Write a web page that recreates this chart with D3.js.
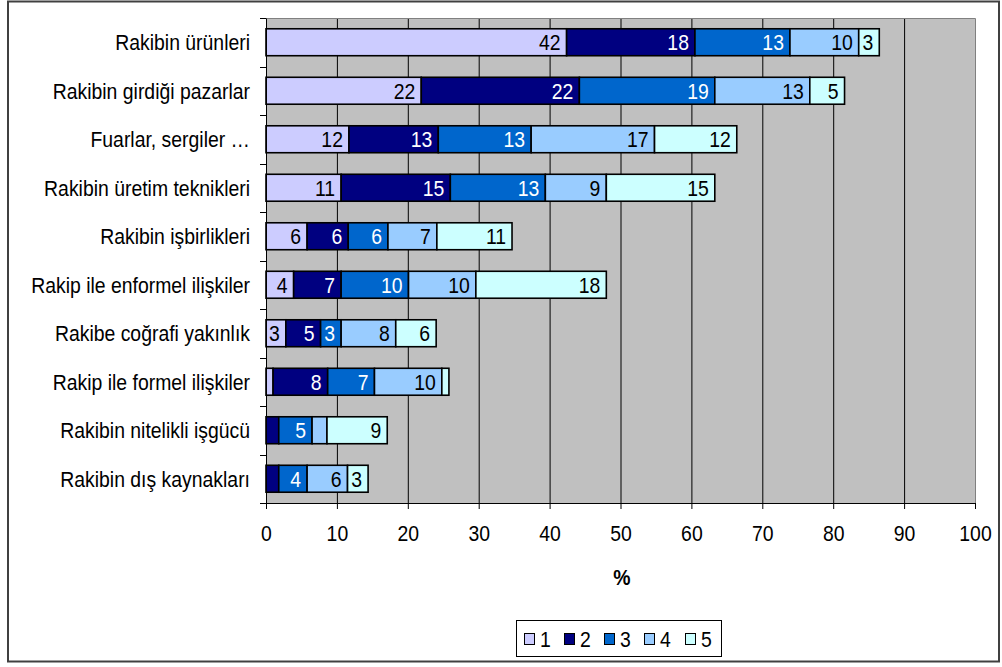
<!DOCTYPE html>
<html><head><meta charset="utf-8">
<script src="https://cdn.jsdelivr.net/npm/d3@7"></script>
<style>
body{margin:0;background:#fff;}
svg text{font-family:"Liberation Sans",Arial,sans-serif;}
</style></head>
<body>
<svg id="c" width="1002" height="667"></svg>
<script>
const categories = ["Rakibin ürünleri","Rakibin girdiği pazarlar","Fuarlar, sergiler …","Rakibin üretim teknikleri","Rakibin işbirlikleri","Rakip ile enformel ilişkiler","Rakibe coğrafi yakınlık","Rakip ile formel ilişkiler","Rakibin nitelikli işgücü","Rakibin dış kaynakları"];
const seriesNames = ["1","2","3","4","5"];
const s1 = [42.4, 21.9, 11.7, 10.6, 5.8, 3.9, 2.8, 1.0, 0, 0];
const s2 = [18.1, 22.3, 12.6, 15.4, 5.8, 6.7, 4.9, 7.7, 1.8, 1.8];
const s3 = [13.4, 19.1, 13.1, 13.4, 5.6, 9.5, 2.9, 6.6, 4.7, 4.0];
const s4 = [9.7, 13.4, 17.4, 8.6, 6.9, 9.5, 7.7, 9.5, 2.1, 5.7];
const s5 = [2.9, 4.9, 11.6, 15.3, 10.6, 18.4, 5.7, 1.0, 8.5, 2.9];
const xTicks = [0,10,20,30,40,50,60,70,80,90,100];
const colors = ["#CCCCFF","#000080","#0066CC","#99CCFF","#CCFFFF"];
const labelColors = ["#000","#fff","#fff","#000","#000"];

const svg = d3.select("#c");
const FS = 19.4, SY = 1.14;
function stretch(sel){
  sel.each(function(){
    const t = d3.select(this);
    const yy = +t.attr("y") || 0;
    t.attr("y", yy/SY).attr("transform", `scale(1,${SY})`);
  });
}
// outer border
svg.append("rect").attr("x",8).attr("y",1.5).attr("width",991).attr("height",660)
  .attr("fill","#fff").attr("stroke","#404040").attr("stroke-width",2);

const x = d3.scaleLinear().domain([0,100]).range([266,975]);
const y = d3.scaleBand().domain(categories).range([18,503]).paddingInner(0.8/1.8).paddingOuter(0.4/1.8);
const step = y.step();

// plot area
svg.append("rect").attr("x",x(0)).attr("y",18).attr("width",x(100)-x(0)).attr("height",485).attr("fill","#C0C0C0");
svg.append("g").selectAll("line").data(xTicks.filter(t=>t>0&&t<100)).join("line")
  .attr("x1",d=>x(d)+0.5).attr("x2",d=>x(d)+0.5).attr("y1",18).attr("y2",503)
  .attr("stroke","#000").attr("stroke-width",1);
svg.append("path").attr("d",`M${x(0)},18.5H${x(100)+0.5}V503`).attr("fill","none").attr("stroke","#808080").attr("stroke-width",1);

// stacked bars
const rows = categories.map((c,i)=>({cat:c, vals:[s1[i],s2[i],s3[i],s4[i],s5[i]]}));
const segs = [];
rows.forEach(r=>{ let acc=0; r.vals.forEach((v,k)=>{ segs.push({cat:r.cat,k,v,x0:acc,x1:acc+v}); acc+=v; }); });
const g = svg.append("g");
g.selectAll("rect").data(segs.filter(d=>d.v>0)).join("rect")
  .attr("x",d=>x(d.x0)).attr("width",d=>x(d.x1)-x(d.x0))
  .attr("y",d=>y(d.cat)).attr("height",y.bandwidth())
  .attr("fill",d=>colors[d.k]).attr("stroke","#000").attr("stroke-width",1.6);
g.selectAll("text").data(segs.filter(d=>Math.round(d.v)>=3)).join("text")
  .attr("x",d=>Math.max(x(d.x1)-6, x(d.x0)+2+ (String(Math.round(d.v)).length*FS*0.556)))
  .attr("y",d=>y(d.cat)+y.bandwidth()/2 + 0.36*FS*SY)
  .attr("text-anchor","end").attr("font-size",FS).attr("fill",d=>labelColors[d.k])
  .text(d=>d3.format(".0f")(d.v))
  .call(stretch);

// axes
const xa = svg.append("g").attr("transform","translate(0,503)")
  .call(d3.axisBottom(x).tickValues(xTicks).tickSize(6).tickPadding(12).tickSizeOuter(0));
xa.select(".domain").attr("stroke","#000");
xa.selectAll("line").attr("stroke","#000");
xa.selectAll("text").attr("font-size",FS).attr("fill","#000").attr("font-family","Liberation Sans, Arial")
  .attr("dy",null).attr("y",6+16+0.71*FS*SY).call(stretch);
const ya = svg.append("g").attr("transform",`translate(${x(0)},0)`)
  .call(d3.axisLeft(y).tickSize(0).tickPadding(16));
ya.select(".domain").attr("stroke","#000");
ya.selectAll("text").attr("font-size",FS).attr("fill","#000").attr("font-family","Liberation Sans, Arial")
  .attr("dy",null).attr("y",0.36*FS*SY).call(stretch);
svg.append("g").selectAll("line").data(d3.range(categories.length+1)).join("line")
  .attr("x1",x(0)-6).attr("x2",x(0)).attr("y1",i=>Math.round(18+i*step)+0.5).attr("y2",i=>Math.round(18+i*step)+0.5)
  .attr("stroke","#000");

svg.append("text").attr("x",622).attr("y",585).attr("text-anchor","middle")
  .attr("font-size",FS).attr("font-weight","bold").text("%").call(stretch);

// legend
const lg = svg.append("g");
lg.append("rect").attr("x",516.5).attr("y",620.5).attr("width",205).attr("height",36).attr("fill","#fff").attr("stroke","#000");
const lx = [524,564,604,644,685];
const items = lg.selectAll("g").data(seriesNames).join("g").attr("transform",(d,i)=>`translate(${lx[i]},0)`);
items.append("rect").attr("x",0.5).attr("y",633.5).attr("width",10).attr("height",11).attr("fill",(d,i)=>colors[i]).attr("stroke","#000");
items.append("text").attr("x",16).attr("y",639+0.36*FS*SY).attr("font-size",FS).text(d=>d).call(stretch);
</script>
</body></html>
